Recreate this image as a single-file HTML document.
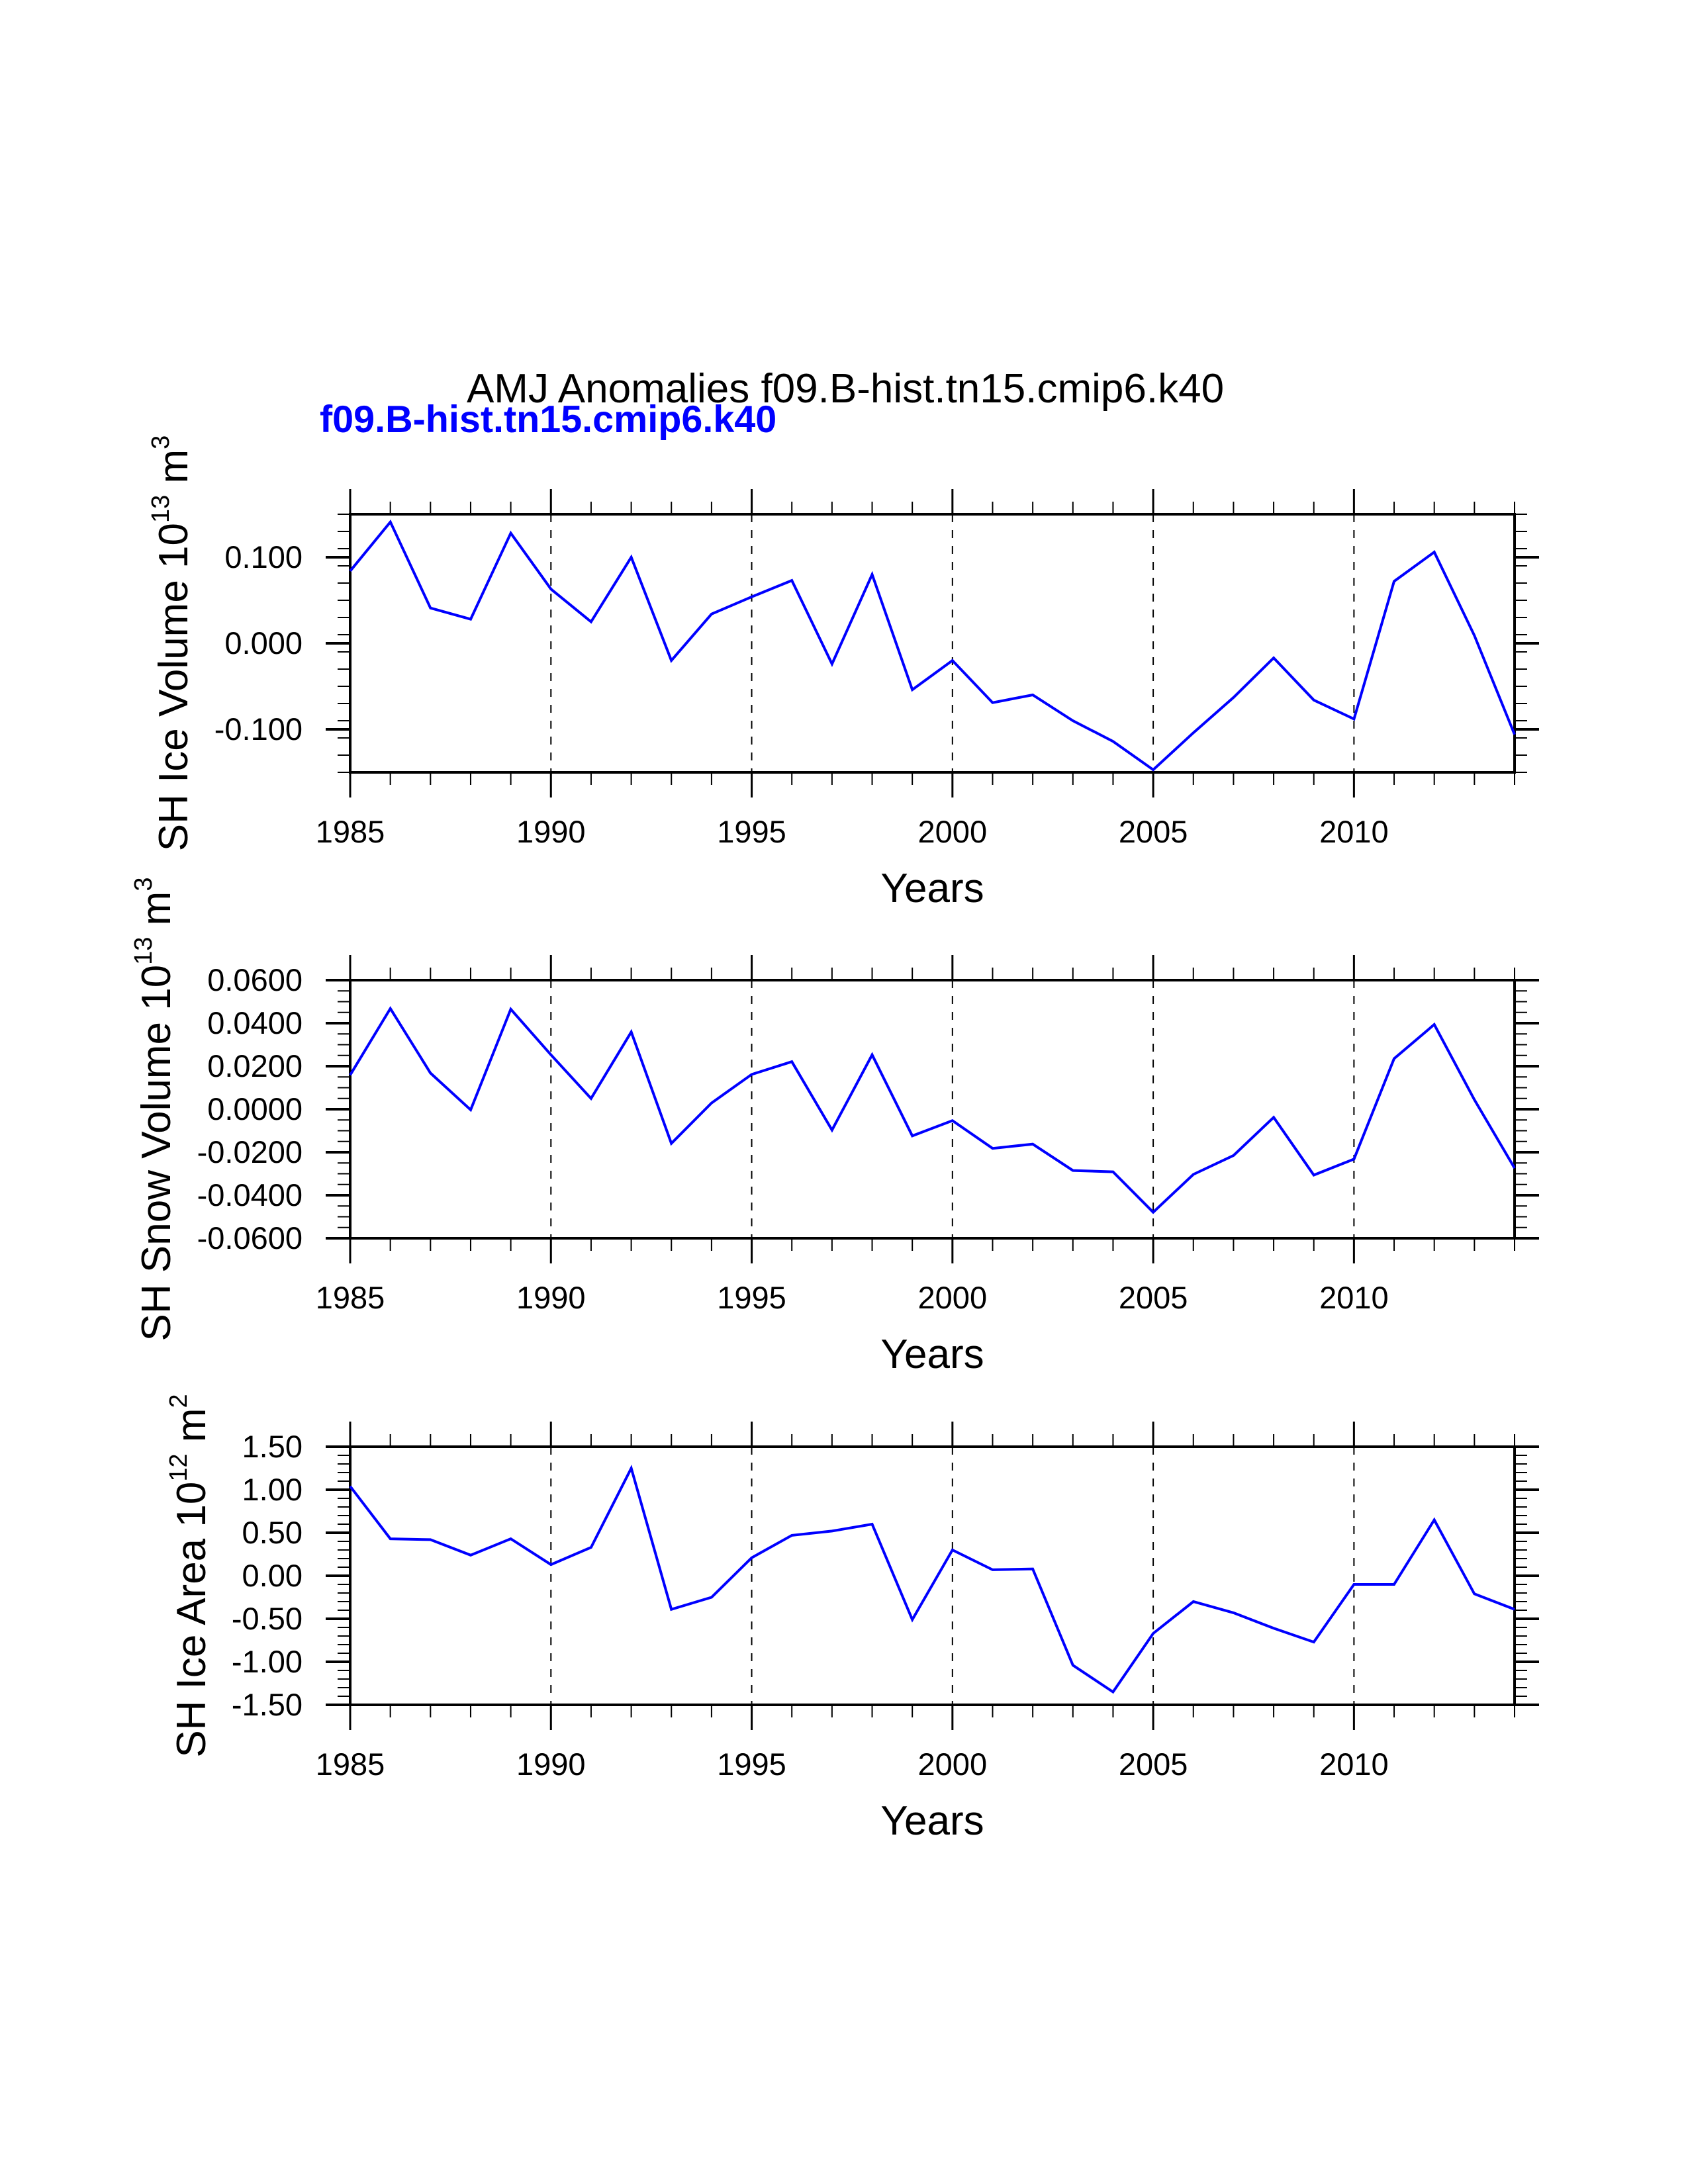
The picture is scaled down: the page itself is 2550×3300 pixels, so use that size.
<!DOCTYPE html>
<html><head><meta charset="utf-8"><style>
html,body{margin:0;padding:0;background:#fff;}
svg{display:block;font-family:"Liberation Sans",sans-serif;}
</style></head><body>
<svg id="chart" width="2550" height="3300" viewBox="0 0 2550 3300" xmlns="http://www.w3.org/2000/svg">
<text x="1277" y="608" font-size="62" text-anchor="middle" fill="#000">AMJ Anomalies f09.B-hist.tn15.cmip6.k40</text>
<text x="483" y="653" font-size="57.5" font-weight="bold" fill="#0000ff">f09.B-hist.tn15.cmip6.k40</text>
</svg>
<script>
const years = [1985,1986,1987,1988,1989,1990,1991,1992,1993,1994,1995,1996,1997,1998,1999,2000,2001,2002,2003,2004,2005,2006,2007,2008,2009,2010,2011,2012,2013,2014];
const iceVolume = [0.084,0.141,0.041,0.028,0.128,0.063,0.025,0.100,-0.020,0.034,0.054,0.073,-0.024,0.080,-0.054,-0.020,-0.069,-0.060,-0.090,-0.114,-0.147,-0.104,-0.063,-0.017,-0.066,-0.088,0.072,0.106,0.009,-0.106];
const snowVolume = [0.0159,0.0468,0.0168,-0.0003,0.0465,0.0253,0.0050,0.0359,-0.0159,0.0029,0.0162,0.0221,-0.0097,0.0253,-0.0124,-0.0053,-0.0182,-0.0162,-0.0285,-0.0291,-0.0479,-0.0303,-0.0215,-0.0038,-0.0306,-0.0232,0.0235,0.0394,0.0044,-0.0274];
const iceArea = [1.04,0.43,0.42,0.24,0.43,0.13,0.33,1.25,-0.39,-0.25,0.21,0.47,0.52,0.60,-0.51,0.30,0.07,0.08,-1.04,-1.35,-0.67,-0.30,-0.43,-0.61,-0.77,-0.10,-0.10,0.65,-0.21,-0.39];
const xTickLabels = ["1985","1990","1995","2000","2005","2010"];
const iceVolumeTicks = ["-0.100","0.000","0.100"];
const snowVolumeTicks = ["-0.0600","-0.0400","-0.0200","0.0000","0.0200","0.0400","0.0600"];
const iceAreaTicks = ["-1.50","-1.00","-0.50","0.00","0.50","1.00","1.50"];

const NS = "http://www.w3.org/2000/svg";
const svg = document.getElementById('chart');
const X0 = 529, X1 = 2288, YR0 = 1985, YR1 = 2014;
function xScale(yr){ return X0 + (yr - YR0) * (X1 - X0) / (YR1 - YR0); }
function mk(tag, attrs, parent){
  const e = document.createElementNS(NS, tag);
  for (const k in attrs) e.setAttribute(k, attrs[k]);
  (parent || svg).appendChild(e);
  return e;
}

function panel(cfg){
  const g = mk('g', {});
  
  
  const top = cfg.top, bot = cfg.top + 390;
  const yScale = v => bot - (v - cfg.ymin) / (cfg.ymax - cfg.ymin) * (bot - top);
  for (let yr = 1990; yr <= 2010; yr += 5) {
    const l = mk('line', {x1: xScale(yr), x2: xScale(yr), y1: top, y2: bot, stroke: '#000', 'stroke-width': 2, 'stroke-dasharray': '12,12'}, g);
    
    
  }
  for (let yr = YR0; yr <= YR1; yr++) {
    const major = (yr % 5 === 0);
    const len = major ? 38 : 19, w = major ? 3 : 2;
    const x = xScale(yr);
    mk('line', {x1: x, x2: x, y1: top, y2: top - len, stroke: '#000', 'stroke-width': w}, g);
    mk('line', {x1: x, x2: x, y1: bot, y2: bot + len, stroke: '#000', 'stroke-width': w}, g);
  }
  xTickLabels.forEach(s => {
    const t = mk('text', {x: xScale(+s), y: bot + 106, 'font-size': 47, 'text-anchor': 'middle'}, g);
    t.textContent = s;
    
    
  });
  const nMinor = Math.round((cfg.ymax - cfg.ymin) / cfg.minor);
  for (let i = 0; i <= nMinor; i++) {
    const y = yScale(cfg.ymin + i * cfg.minor);
    mk('line', {x1: X0, x2: X0 - 19, y1: y, y2: y, stroke: '#000', 'stroke-width': 2}, g);
    mk('line', {x1: X1, x2: X1 + 19, y1: y, y2: y, stroke: '#000', 'stroke-width': 2}, g);
  }
  cfg.ticks.forEach(s => {
    const y = yScale(parseFloat(s));
    mk('line', {x1: X0, x2: X0 - 37, y1: y, y2: y, stroke: '#000', 'stroke-width': 4}, g);
    mk('line', {x1: X1, x2: X1 + 37, y1: y, y2: y, stroke: '#000', 'stroke-width': 4}, g);
    const t = mk('text', {x: 457, y: y + 16, 'font-size': 47, 'text-anchor': 'end'}, g);
    t.textContent = s;
    
    
  });
  const fr = mk('rect', {x: X0, y: top, width: X1 - X0, height: bot - top, fill: 'none', stroke: '#000', 'stroke-width': 4}, g);
  
  
  const pts = cfg.data.map((v, i) => xScale(years[i]).toFixed(1) + ',' + yScale(v).toFixed(1)).join(' ');
  const pl = mk('polyline', {points: pts, fill: 'none', stroke: '#0000ff', 'stroke-width': 4, 'stroke-linejoin': 'miter'}, g);
  
  
  const xt = mk('text', {x: (X0 + X1) / 2, y: bot + 196, 'font-size': 62, 'text-anchor': 'middle'}, g);
  xt.textContent = 'Years';
  
  
  const cy = (top + bot) / 2;
  const yt = mk('text', {x: cfg.ytX, y: cy, 'font-size': 62, 'text-anchor': 'middle', transform: 'rotate(-90 ' + cfg.ytX + ' ' + cy + ')'}, g);
  
  
  const a = mk('tspan', {}, yt); a.textContent = cfg.ylabel + ' 10';
  const b = mk('tspan', {'font-size': 38, dy: -28}, yt); b.textContent = cfg.exp;
  const c = mk('tspan', {dy: 28}, yt); c.textContent = '\u00a0m';
  const d = mk('tspan', {'font-size': 38, dy: -28}, yt); d.textContent = cfg.unit;
}

panel({name: 'ice-volume', top: 777, ymin: -0.15, ymax: 0.15, minor: 0.02, ticks: iceVolumeTicks, data: iceVolume, ylabel: 'SH Ice Volume', exp: '13', unit: '3', ytX: 283});
panel({name: 'snow-volume', top: 1481, ymin: -0.06, ymax: 0.06, minor: 0.005, ticks: snowVolumeTicks, data: snowVolume, ylabel: 'SH Snow Volume', exp: '13', unit: '3', ytX: 257});
panel({name: 'ice-area', top: 2186, ymin: -1.5, ymax: 1.5, minor: 0.1, ticks: iceAreaTicks, data: iceArea, ylabel: 'SH Ice Area', exp: '12', unit: '2', ytX: 310});
</script>
</body></html>
